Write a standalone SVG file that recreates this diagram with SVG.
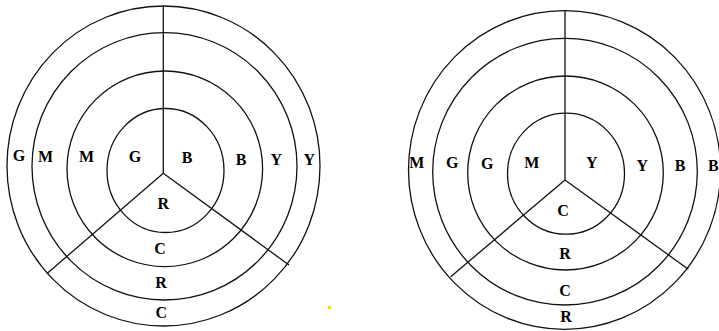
<svg xmlns="http://www.w3.org/2000/svg" width="719" height="331" viewBox="0 0 719 331">
<style>
.ring{fill:none;stroke:#111;stroke-width:1.3}
.spoke{fill:none;stroke:#111;stroke-width:1.3}
.lbl{font-family:"Liberation Serif","Times New Roman",serif;font-weight:bold;font-size:16px;fill:#000;text-anchor:middle}
</style>
<rect width="719" height="331" fill="#fff"/>
<g id="diagram-left">
  <ellipse class="ring" cx="163.5" cy="166" rx="156.5" ry="160"/>
  <ellipse class="ring" cx="164.5" cy="166.3" rx="132.5" ry="133.7"/>
  <ellipse class="ring" cx="164.8" cy="168.8" rx="97.8" ry="97.8"/>
  <ellipse class="ring" cx="165.5" cy="170.5" rx="58.5" ry="62"/>
  <g id="spokes-left">
    <line class="spoke" x1="163.3" y1="6" x2="163.3" y2="173.3"/>
    <line class="spoke" x1="163.3" y1="173.3" x2="47" y2="273.5"/>
    <line class="spoke" x1="163.3" y1="173.3" x2="289" y2="265"/>
  </g>
  <text class="lbl" x="19" y="160.8">G</text>
  <text class="lbl" x="45.5" y="161.8">M</text>
  <text class="lbl" x="86.5" y="161.8">M</text>
  <text class="lbl" x="135" y="162.3">G</text>
  <text class="lbl" x="187" y="163.3">B</text>
  <text class="lbl" x="241" y="165.3">B</text>
  <text class="lbl" x="276.3" y="165.3">Y</text>
  <text class="lbl" x="309.3" y="165.3">Y</text>
  <text class="lbl" x="163.3" y="209.3">R</text>
  <text class="lbl" x="160" y="254.3">C</text>
  <text class="lbl" x="161" y="287.8">R</text>
  <text class="lbl" x="161.3" y="318">C</text>
</g>
<g id="diagram-right">
  <ellipse class="ring" cx="564.5" cy="170" rx="156" ry="159.3"/>
  <ellipse class="ring" cx="565" cy="171.7" rx="132.3" ry="133.3"/>
  <ellipse class="ring" cx="565.5" cy="173" rx="97.8" ry="97"/>
  <ellipse class="ring" cx="566" cy="173.7" rx="58.5" ry="60.5"/>
  <g id="spokes-right">
    <line class="spoke" x1="565" y1="10.7" x2="565" y2="180"/>
    <line class="spoke" x1="565" y1="180" x2="450.7" y2="276.7"/>
    <line class="spoke" x1="565" y1="180" x2="688.3" y2="269.3"/>
  </g>
  <text class="lbl" x="416.7" y="168">M</text>
  <text class="lbl" x="452.3" y="168">G</text>
  <text class="lbl" x="487.3" y="169.3">G</text>
  <text class="lbl" x="531.7" y="168.3">M</text>
  <text class="lbl" x="591.7" y="168.3">Y</text>
  <text class="lbl" x="642.3" y="171">Y</text>
  <text class="lbl" x="680" y="171">B</text>
  <text class="lbl" x="713.3" y="171">B</text>
  <text class="lbl" x="563" y="216.3">C</text>
  <text class="lbl" x="565" y="258.8">R</text>
  <text class="lbl" x="565" y="295.8">C</text>
  <text class="lbl" x="566" y="322">R</text>
</g>
<rect x="328" y="306" width="3" height="3" fill="#f5e000"/>
</svg>
